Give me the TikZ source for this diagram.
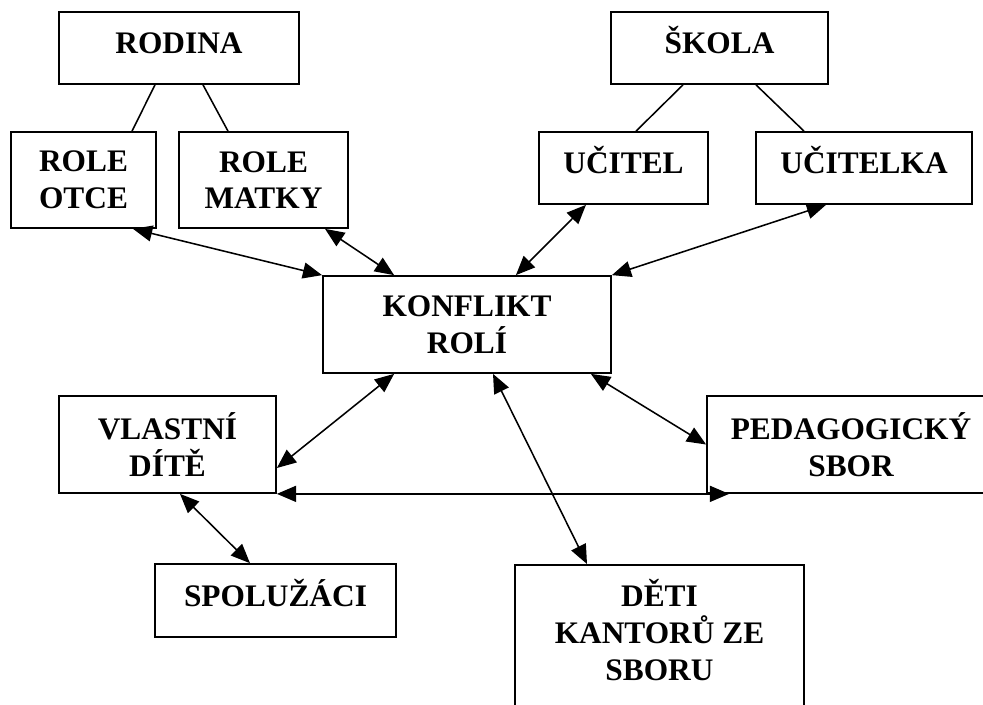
\documentclass[tikz,border=0pt]{standalone}
\usepackage{fontspec}
\setmainfont{Liberation Serif}
\usetikzlibrary{arrows.meta,calc}
\begin{document}
\begin{tikzpicture}[
  x=0.025cm, y=-0.025cm,
  b/.style={draw, line width=1.2pt, align=center, inner sep=0pt,
    font=\bfseries\fontsize{22.3}{26}\selectfont},
  one/.style={text height=0.55cm, text depth=0.275cm},
  e/.style={line width=1.1pt},
  a/.style={e, {Triangle[length=0.48cm,width=0.4cm]}-{Triangle[length=0.48cm,width=0.4cm]}}
]
\useasboundingbox (0,0) rectangle (983,704);
\node[b, one, minimum width=6cm, minimum height=1.8cm] (rodina) at (179,48) {RODINA};
\node[b, one, minimum width=5.425cm, minimum height=1.8cm] (skola) at (719.5,48) {ŠKOLA};
\node[b, minimum width=3.625cm, minimum height=2.4cm] (otce) at (83.5,180) {ROLE\\OTCE};
\node[b, minimum width=4.225cm, minimum height=2.4cm] (matky) at (263.5,180) {ROLE\\MATKY};
\node[b, one, minimum width=4.225cm, minimum height=1.8cm] (ucitel) at (623.5,168) {UČITEL};
\node[b, one, minimum width=5.4cm, minimum height=1.8cm] (ucitelka) at (864,168) {UČITELKA};
\node[b, minimum width=7.2cm, minimum height=2.425cm] (konflikt) at (467,324.5) {KONFLIKT\\ROLÍ};
\node[b, minimum width=5.425cm, minimum height=2.425cm] (dite) at (167.5,444.5) {VLASTNÍ\\DÍTĚ};
\node[b, minimum width=7.2cm, minimum height=2.425cm] (ped) at (851,444.5) {PEDAGOGICKÝ\\SBOR};
\node[b, one, minimum width=6.025cm, minimum height=1.825cm] (spoluzaci) at (275.5,600.5) {SPOLUŽÁCI};
\node[b, anchor=north, minimum width=7.225cm, minimum height=4.5cm, text depth=1.25cm] (deti) at (659.5,564) {DĚTI\\KANTORŮ ZE\\SBORU};
% stromy
\draw[e] ($(rodina.south)+(-24,0)$) -- ($(otce.north)+(48.5,0)$);
\draw[e] ($(rodina.south)+(24,0)$) -- ($(matky.north)+(-35.5,0)$);
\draw[e] ($(skola.south)+(-36.5,0)$) -- ($(ucitel.north)+(12.5,0)$);
\draw[e] ($(skola.south)+(36.5,0)$) -- ($(ucitelka.north)+(-60,0)$);
% vazby ke konfliktu
\draw[a] ($(otce.south)+(49.5,0)$) -- (konflikt.north west);
\draw[a] ($(matky.south)+(61.5,0)$) -- ($(konflikt.north west)+(72,0)$);
\draw[a] ($(ucitel.south)+(-37.5,0)$) -- ($(konflikt.north east)+(-96,0)$);
\draw[a] ($(ucitelka.south)+(-38,0)$) -- (konflikt.north east);
\draw[a] ($(konflikt.south west)+(72,0)$) -- ($(dite.east)+(0,23.5)$);
\draw[a] ($(konflikt.south east)+(-21,0)$) -- (ped.west);
\draw[a] ($(konflikt.south)+(26,0)$) -- ($(deti.north)+(-72.5,0)$);
\draw[a] (dite.south east) -- ($(ped.south west)+(23,0)$);
\draw[a] ($(dite.south)+(12.5,0)$) -- ($(spoluzaci.north)+(-25.5,0)$);
\end{tikzpicture}
\end{document}
